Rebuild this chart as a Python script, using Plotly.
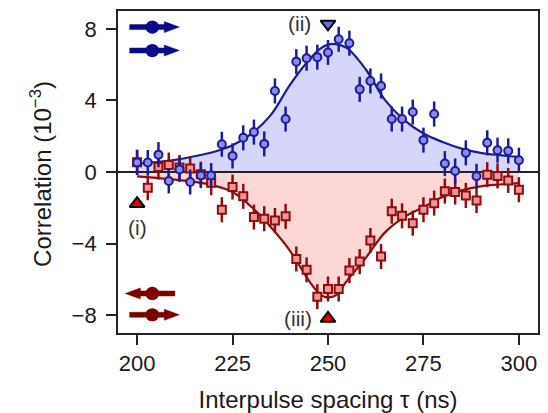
import plotly.graph_objects as go

# ---------------- data ----------------
tau = [200.0, 202.8, 205.6, 208.3, 211.1, 213.9, 216.7, 219.4, 222.2, 225.0,
       227.8, 230.6, 233.3, 236.1, 238.9, 241.7, 244.4, 247.2, 250.0, 252.8,
       255.6, 258.3, 261.1, 263.9, 266.7, 269.4, 272.2, 275.0, 277.8, 280.6,
       283.3, 286.1, 288.9, 291.7, 294.4, 297.2, 300.0]

blue_vals = [0.53, 0.53, 0.97, -0.50, 0.14, -0.56, -0.20, -0.20, 1.55, 0.90,
             1.91, 2.23, 1.57, 4.53, 2.96, 6.17, 6.36, 6.42, 6.68, 7.42,
             7.20, 4.62, 5.09, 4.81, 2.96, 2.96, 3.35, 1.78, 3.24, 0.47,
             0.06, 1.07, -0.24, 1.63, 1.22, 1.18, 0.66]

red_vals = [0.55, -0.88, 0.28, 0.39, 0.25, 0.19, -0.12, -0.60, -2.11, -0.84,
            -1.36, -2.52, -2.61, -2.71, -2.48, -4.86, -5.47, -6.97, -6.54, -6.54,
            -5.51, -5.01, -3.83, -4.73, -2.19, -2.45, -2.86, -2.11, -1.74, -1.07,
            -1.12, -1.31, -1.59, -0.15, -0.22, -0.47, -0.99]

err = 0.7

fit_tau = [200, 205, 210, 215, 220, 225, 230, 235, 240, 245, 248, 250, 252,
           255, 260, 265, 270, 275, 280, 285, 290, 295, 300]
blue_fit = [0.45, 0.55, 0.68, 0.88, 1.12, 1.50, 2.15, 3.18, 4.86, 6.26, 6.90, 7.12, 7.15,
            6.92, 5.70, 4.00, 2.90, 2.15, 1.68, 1.31, 1.07, 0.94, 0.84]
red_fit = [-0.24, -0.33, -0.43, -0.55, -0.75, -1.12, -1.96, -3.08, -4.39, -6.07, -6.85, -7.01, -6.90,
           -6.07, -4.77, -3.36, -2.52, -1.96, -1.40, -1.03, -0.80, -0.70, -0.62]

x_ticks = [200, 225, 250, 275, 300]
y_ticks = [-8, -4, 0, 4, 8]

BLUE = "rgb(28,28,150)"
BLUE_FILL_MK = "rgb(140,140,235)"
BLUE_AREA = "rgb(214,214,250)"
RED = "rgb(140,14,14)"
RED_FILL_MK = "rgb(240,150,150)"
RED_AREA = "rgb(253,214,214)"
PICT_BLUE = "rgb(10,10,140)"
PICT_RED = "rgb(125,0,0)"
FONT = "Liberation Sans, Arial, Helvetica, sans-serif"
TXT = "#1a1a1a"

fig = go.Figure()

# shaded areas
fig.add_trace(go.Scatter(x=fit_tau, y=blue_fit, mode="lines", fill="tozeroy",
                         fillcolor=BLUE_AREA, line=dict(width=0, shape="spline", color=BLUE_AREA),
                         hoverinfo="skip", showlegend=False))
fig.add_trace(go.Scatter(x=fit_tau, y=red_fit, mode="lines", fill="tozeroy",
                         fillcolor=RED_AREA, line=dict(width=0, shape="spline", color=RED_AREA),
                         hoverinfo="skip", showlegend=False))
# zero line
fig.add_trace(go.Scatter(x=[195, 305], y=[0, 0], mode="lines",
                         line=dict(color="#222", width=1.8), hoverinfo="skip", showlegend=False))
# fits
fig.add_trace(go.Scatter(x=fit_tau, y=blue_fit, mode="lines",
                         line=dict(color=BLUE, width=2.2, shape="spline"), showlegend=False))
fig.add_trace(go.Scatter(x=fit_tau, y=red_fit, mode="lines",
                         line=dict(color=RED, width=2.2, shape="spline"), showlegend=False))
# data points
fig.add_trace(go.Scatter(x=tau, y=red_vals, mode="markers",
                         marker=dict(symbol="square", size=8, color=RED_FILL_MK,
                                     line=dict(color=RED, width=2)),
                         error_y=dict(type="constant", value=err, color=RED, thickness=2.5, width=0),
                         showlegend=False))
fig.add_trace(go.Scatter(x=tau, y=blue_vals, mode="markers",
                         marker=dict(symbol="circle", size=8, color=BLUE_FILL_MK,
                                     line=dict(color=BLUE, width=2)),
                         error_y=dict(type="constant", value=err, color=BLUE, thickness=2.5, width=0),
                         showlegend=False))

# triangle markers (i), (ii), (iii)
fig.add_trace(go.Scatter(x=[200, 250], y=[-1.77, -8.19], mode="markers",
                         marker=dict(symbol="triangle-up", size=13, color="rgb(230,0,0)",
                                     line=dict(color="black", width=2)), showlegend=False))
fig.add_trace(go.Scatter(x=[250], y=[8.28], mode="markers",
                         marker=dict(symbol="triangle-down", size=13, color="rgb(100,110,230)",
                                     line=dict(color="black", width=2)), showlegend=False))

annots = []
for txt, xx, yy in [("(i)", 200, -3.1), ("(ii)", 242.6, 8.3), ("(iii)", 242.2, -8.2)]:
    annots.append(dict(x=xx, y=yy, xref="x", yref="y", text=txt, showarrow=False,
                       font=dict(family=FONT, size=21, color="#333")))

# arrow pictograms (pixel-sized shapes anchored in data space)
shapes = []
CX = 203.98
def pictogram(y, direction, color):
    s = 1 if direction == "right" else -1
    line_path = f"M {-22.6*s},-2.5 L {13*s},-2.5 L {13*s},2.5 L {-22.6*s},2.5 Z"
    head_path = f"M {12*s},-5.5 L {27*s},0 L {12*s},5.5 Z"
    for p in (line_path, head_path):
        shapes.append(dict(type="path", xref="x", yref="y", xsizemode="pixel", ysizemode="pixel",
                           xanchor=CX, yanchor=y, path=p, fillcolor=color,
                           line=dict(color=color, width=0.5)))
    shapes.append(dict(type="circle", xref="x", yref="y", xsizemode="pixel", ysizemode="pixel",
                       xanchor=CX, yanchor=y, x0=-6.8, x1=6.8, y0=-6.6, y1=6.6,
                       fillcolor=color, line=dict(color=color, width=0)))

pictogram(8.1, "right", PICT_BLUE)
pictogram(6.79, "right", PICT_BLUE)
pictogram(-6.79, "left", PICT_RED)
pictogram(-7.98, "right", PICT_RED)

# y-axis title as annotation
annots.append(dict(xref="paper", yref="paper", x=-0.185, y=0.495, xanchor="center", yanchor="middle",
                   text="Correlation (10<sup>−3</sup>)", textangle=-90, showarrow=False,
                   font=dict(family=FONT, size=24, color=TXT)))

fig.update_layout(
    width=548, height=413,
    margin=dict(l=118, r=10, t=11, b=80),
    paper_bgcolor="white", plot_bgcolor="white",
    font=dict(family=FONT, size=22, color=TXT),
    shapes=shapes, annotations=annots,
)
fig.update_xaxes(range=[195, 305], tickvals=x_ticks, ticks="outside", ticklen=10, tickwidth=1.8,
                 tickcolor="#222", showgrid=False, zeroline=False, showline=True, linewidth=1.8,
                 linecolor="#222", mirror=True, automargin=False,
                 title=dict(text="Interpulse spacing τ (ns)", standoff=16,
                            font=dict(family=FONT, size=24, color=TXT)),
                 tickfont=dict(family=FONT, size=22, color=TXT))
fig.update_yaxes(range=[-9, 9], tickvals=y_ticks, ticks="outside", ticklen=10, tickwidth=1.8,
                 tickcolor="#222", showgrid=False, zeroline=False, showline=True, linewidth=1.8,
                 linecolor="#222", mirror=True, ticklabelstandoff=5, automargin=False,
                 tickfont=dict(family=FONT, size=22, color=TXT))

fig.write_html("out.html")
